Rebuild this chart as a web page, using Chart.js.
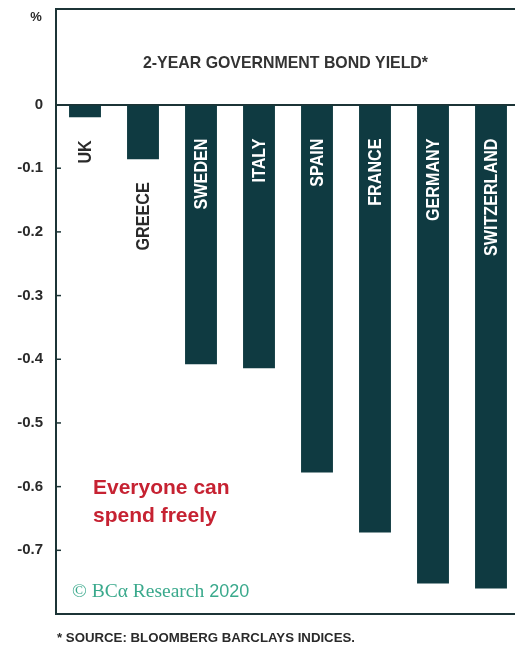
<!DOCTYPE html>
<html>
<head>
<meta charset="utf-8">
<script src="https://cdn.jsdelivr.net/npm/chart.js@4.4.1/dist/chart.umd.min.js"></script>
<style>
  html, body { margin: 0; padding: 0; background: #fff; overflow: hidden; }
  #wrap { position: relative; width: 520px; height: 646px; }
</style>
</head>
<body>
<div id="wrap"><canvas id="bondChart"></canvas></div>
<script>
// data
const countries = ["UK", "GREECE", "SWEDEN", "ITALY", "SPAIN", "FRANCE", "GERMANY", "SWITZERLAND"];
const yields = [-0.02, -0.086, -0.408, -0.414, -0.578, -0.672, -0.752, -0.76];
const yTicks = [0, -0.1, -0.2, -0.3, -0.4, -0.5, -0.6, -0.7];
const chartTitle = "2-YEAR GOVERNMENT BOND YIELD*";
const noteLines = ["Everyone can", "spend freely"];
const sourceNote = "* SOURCE: BLOOMBERG BARCLAYS INDICES.";

const BAR = "#0f3a41";
const AXIS = "#1c3436";
const TEXT = "#2a2a2a";
const RED = "#c62232";
const TEAL = "#3aa98c";

// draw text squeezed/stretched to a given width (the original uses a condensed face)
function fitText(ctx, text, x, y, width, font, color) {
  ctx.save();
  ctx.font = font;
  ctx.fillStyle = color;
  ctx.textAlign = "left";
  ctx.textBaseline = "middle";
  const f = width / ctx.measureText(text).width;
  ctx.translate(x, y);
  ctx.scale(f, 1);
  ctx.fillText(text, 0, 0);
  ctx.restore();
}

const decorations = {
  id: "decorations",
  afterDraw(chart) {
    const { ctx, chartArea: a, scales } = chart;
    const y = scales.y;
    ctx.save();

    // top frame line
    ctx.strokeStyle = AXIS;
    ctx.lineWidth = 2;
    ctx.beginPath();
    ctx.moveTo(a.left - 1, a.top);
    ctx.lineTo(a.right, a.top);
    ctx.stroke();

    // small ticks pointing into the plot
    ctx.lineWidth = 1.5;
    yTicks.forEach(v => {
      if (v === 0) return;
      const py = y.getPixelForValue(v);
      ctx.beginPath();
      ctx.moveTo(a.left, py);
      ctx.lineTo(a.left + 5, py);
      ctx.stroke();
    });

    // unit
    ctx.fillStyle = TEXT;
    ctx.font = "bold 13px 'Liberation Sans'";
    ctx.textAlign = "center";
    ctx.textBaseline = "middle";
    ctx.fillText("%", 36, 17);

    // title inside the box
    fitText(ctx, chartTitle, 143, 63, 285, "bold 17px 'Liberation Sans'", "#333");

    // country names, rotated
    const zero = y.getPixelForValue(0);
    chart.getDatasetMeta(0).data.forEach((bar, i) => {
      const inside = bar.y - zero > 100;
      const endY = inside ? zero + 34 : bar.y + 23;
      ctx.save();
      ctx.translate(bar.x + 1, endY);
      ctx.rotate(-Math.PI / 2);
      ctx.scale(0.85, 1);
      ctx.font = "bold 19px 'Liberation Sans'";
      ctx.textAlign = "right";
      ctx.textBaseline = "middle";
      ctx.fillStyle = inside ? "#ffffff" : TEXT;
      ctx.fillText(countries[i], 0, 0);
      ctx.restore();
    });

    // red annotation
    ctx.font = "bold 21px 'Liberation Sans'";
    ctx.fillStyle = RED;
    ctx.textAlign = "left";
    noteLines.forEach((t, i) => ctx.fillText(t, 93, 488 + i * 28));

    // watermark
    ctx.fillStyle = TEAL;
    ctx.font = "19.5px 'Liberation Serif'";
    const wm = "\u00A9 BC\u03B1 Research ";
    ctx.fillText(wm, 72, 592);
    const w = ctx.measureText(wm).width;
    ctx.font = "18px 'Liberation Sans'";
    ctx.fillText("2020", 72 + w, 592);

    // source line
    fitText(ctx, sourceNote, 57, 639, 298, "bold 12px 'Liberation Sans'", TEXT);

    ctx.restore();
  }
};

new Chart(document.getElementById("bondChart"), {
  type: "bar",
  data: {
    labels: countries,
    datasets: [{
      data: yields,
      backgroundColor: BAR,
      borderWidth: 0,
      categoryPercentage: 1,
      barPercentage: 0.55,
    }],
  },
  options: {
    responsive: true,
    maintainAspectRatio: false,
    devicePixelRatio: 1,
    animation: false,
    layout: { padding: { top: 9, left: 0, right: 0, bottom: 0 } },
    plugins: {
      legend: { display: false },
      tooltip: { enabled: false },
      title: { display: false },
    },
    scales: {
      x: {
        ticks: { display: false },
        grid: { display: false, drawTicks: false },
        border: { display: true, color: AXIS, width: 2 },
        afterFit: s => { s.height = 32; },
      },
      y: {
        min: -0.8,
        max: 0.15,
        afterBuildTicks: s => { s.ticks = yTicks.map(v => ({ value: v })); },
        afterFit: s => {
          s.width = 56;
          s.paddingTop = 0;
          s.paddingBottom = 0;
        },
        ticks: {
          padding: 13,
          color: TEXT,
          font: { family: "'Liberation Sans'", size: 15, weight: "bold" },
          callback: v => (v === 0 ? "0" : String(Math.round(v * 10) / 10)),
        },
        grid: {
          drawTicks: false,
          color: c => (c.tick && c.tick.value === 0 ? AXIS : "rgba(0,0,0,0)"),
          lineWidth: c => (c.tick && c.tick.value === 0 ? 2 : 0),
        },
        border: { display: true, color: AXIS, width: 2 },
      },
    },
  },
  plugins: [decorations],
});
</script>
</body>
</html>
